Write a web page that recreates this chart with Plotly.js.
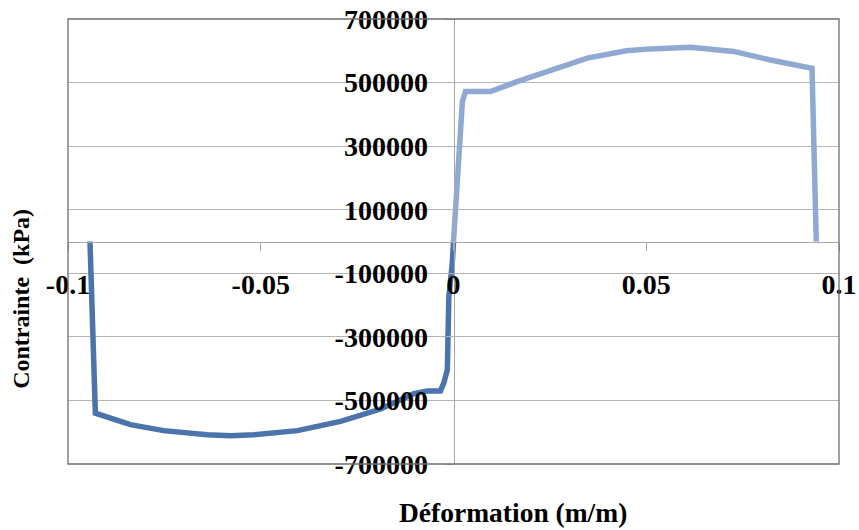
<!DOCTYPE html>
<html>
<head>
<meta charset="utf-8">
<script src="https://cdn.plot.ly/plotly-3.0.1.min.js"></script>
<style>
html, body { margin: 0; padding: 0; background: #ffffff; }
#chart { width: 859px; height: 530px; }
</style>
</head>
<body>
<div id="chart"></div>
<script>
// Compression branch (dark blue)
var negStrain = [-0.0943, -0.0929, -0.0838, -0.0752, -0.0639, -0.0578, -0.0518, -0.0405, -0.0293, -0.0189, -0.0103, -0.0068, -0.0034, -0.0025, -0.0016, -0.0012, -0.0003, 0];
var negStress = [0, -540000, -576000, -595000, -608000, -611000, -608000, -595000, -566000, -527000, -479000, -470000, -470000, -445000, -403000, -173000, -67000, 0];

// Tension branch (light blue)
var posStrain = [0, 0.0018, 0.0023, 0.0031, 0.0096, 0.0165, 0.0252, 0.0347, 0.0448, 0.0511, 0.0615, 0.0727, 0.0822, 0.0930, 0.0941];
var posStress = [0, 404000, 440000, 472000, 472000, 503000, 540000, 577000, 600000, 606000, 611000, 598000, 571000, 545000, 0];

var xTickVals = [-0.1, -0.05, 0, 0.05, 0.1];
var xTickText = ["-0.1", "-0.05", "0", "0.05", "0.1"];
var yTickVals = [700000, 500000, 300000, 100000, -100000, -300000, -500000, -700000];
var yTickText = ["700000", "500000", "300000", "100000", "-100000", "-300000", "-500000", "-700000"];

var xTitle = "Déformation (m/m)";
var yTitle = "Contrainte\u00a0 (kPa)";

var serif = "Liberation Serif";

var traces = [
  {
    x: negStrain, y: negStress, type: "scatter", mode: "lines",
    line: { color: "#4a74ab", width: 5.5 }, hoverinfo: "skip", showlegend: false
  },
  {
    x: posStrain, y: posStress, type: "scatter", mode: "lines",
    line: { color: "#8fa9d2", width: 5.5 }, hoverinfo: "skip", showlegend: false
  }
];

var layout = {
  width: 859, height: 530,
  margin: { l: 68, r: 20, t: 19, b: 66, pad: 0 },
  paper_bgcolor: "#ffffff", plot_bgcolor: "#ffffff",
  showlegend: false,
  font: { family: serif },
  xaxis: {
    range: [-0.1, 0.1], anchor: "free", position: 0.5,
    tickmode: "array", tickvals: xTickVals, ticktext: xTickText,
    showgrid: false, zeroline: false,
    showline: true, linecolor: "#a6a6a6", linewidth: 1,
    ticks: "outside", ticklen: 8, tickcolor: "#a6a6a6", tickwidth: 1,
    ticklabelstandoff: 10,
    tickfont: { family: serif, size: 28, color: "#000000", weight: "bold" },
    fixedrange: true
  },
  yaxis: {
    range: [-700000, 700000], anchor: "free", position: 0.5,
    tickmode: "array", tickvals: yTickVals, ticktext: yTickText,
    showgrid: true, gridcolor: "#b4b4b4", gridwidth: 1,
    zeroline: false,
    showline: true, linecolor: "#a6a6a6", linewidth: 1,
    ticks: "outside", ticklen: 8, tickcolor: "#b4b4b4", tickwidth: 1,
    ticklabelstandoff: 12,
    tickfont: { family: serif, size: 28, color: "#000000", weight: "bold" },
    fixedrange: true
  },
  shapes: [
    {
      type: "rect", xref: "paper", yref: "paper", x0: 0, x1: 1, y0: 0, y1: 1,
      line: { color: "#6e6e6e", width: 1.3 }, fillcolor: "rgba(0,0,0,0)", layer: "above"
    }
  ],
  annotations: [
    {
      text: xTitle, xref: "paper", yref: "paper", x: 0.577, y: -0.110,
      xanchor: "center", yanchor: "middle", showarrow: false,
      font: { family: serif, size: 27.5, color: "#000000", weight: "bold" }
    },
    {
      text: yTitle, xref: "paper", yref: "paper", x: -0.061, y: 0.371,
      xanchor: "center", yanchor: "middle", showarrow: false, textangle: -90,
      font: { family: serif, size: 24, color: "#000000", weight: "bold" }
    }
  ]
};

Plotly.newPlot("chart", traces, layout, { displayModeBar: false, staticPlot: true });
</script>
</body>
</html>
